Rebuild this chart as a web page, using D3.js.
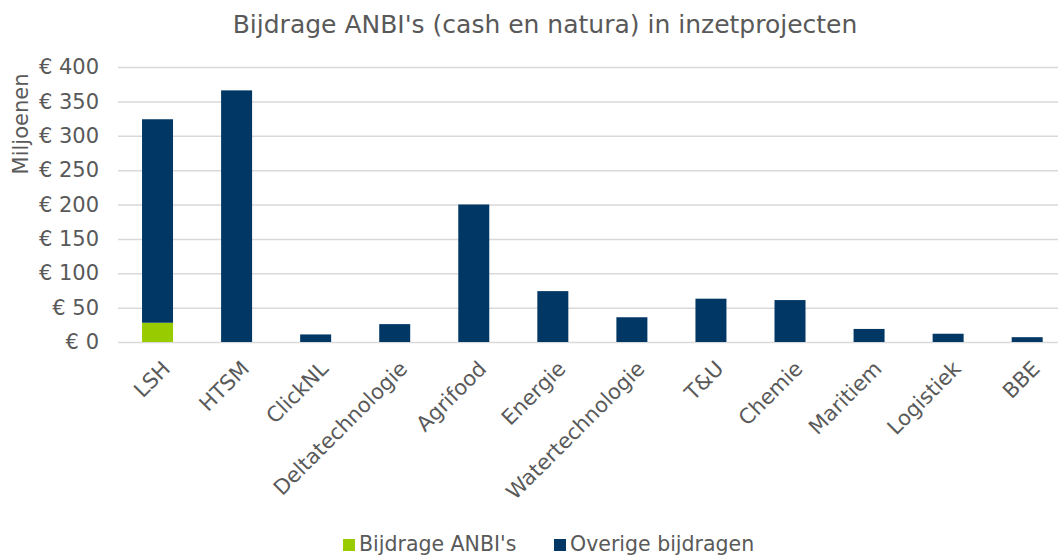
<!DOCTYPE html>
<html>
<head>
<meta charset="utf-8">
<script src="https://cdn.jsdelivr.net/npm/d3@7"></script>
<style>
  body { margin: 0; background: #fff; }
  text { font-family: "DejaVu Sans", Verdana, sans-serif; fill: #595959; }
</style>
</head>
<body>
<svg id="chart" width="1058" height="558"></svg>
<script>
// data (millions of euros)
const categories = ["LSH", "HTSM", "ClickNL", "Deltatechnologie", "Agrifood", "Energie",
  "Watertechnologie", "T&U", "Chemie", "Maritiem", "Logistiek", "BBE"];
const anbi = [28, 0, 0, 0, 0, 0, 0, 0, 0, 0, 0, 0];
const overige = [296, 366, 11, 26, 200, 74, 36, 63, 61, 19, 12, 7];
const yTicks = [0, 50, 100, 150, 200, 250, 300, 350, 400];
const seriesNames = ["Bijdrage ANBI's", "Overige bijdragen"];
const colors = ["#99cc00", "#003764"];

const svg = d3.select("#chart");
const w = 1058;
const plotLeft = 118, plotTop = 67, plotBottom = 342;

const x = d3.scaleBand().domain(categories)
  .range([plotLeft, plotLeft + 79.06 * categories.length])
  .paddingInner(0.608).paddingOuter(0.304);
const y = d3.scaleLinear().domain([0, 400]).range([plotBottom, plotTop]);

const font = '"DejaVu Sans", Verdana, sans-serif';

// gridlines
svg.append('g').selectAll('line').data(yTicks).enter()
  .append('line')
  .attr('x1', plotLeft).attr('x2', w)
  .attr('y1', d => y(d) + 0.5).attr('y2', d => y(d) + 0.5)
  .attr('stroke', '#d9d9d9').attr('stroke-width', 1.5);

// stacked bars
const rows = categories.map((c, i) => ({ cat: c, anbi: anbi[i], overige: overige[i] }));
const stack = d3.stack().keys(["anbi", "overige"])(rows);

svg.append('g').selectAll('g').data(stack).enter()
  .append('g').attr('fill', (d, i) => colors[i])
  .selectAll('rect').data(d => d.filter(v => v[1] - v[0] > 0)).enter()
  .append('rect')
  .attr('x', d => x(d.data.cat))
  .attr('width', x.bandwidth())
  .attr('y', d => y(d[1]))
  .attr('height', d => y(d[0]) - y(d[1]));

// y axis labels
const yAxis = d3.axisLeft(y).tickValues(yTicks).tickSize(0).tickPadding(19)
  .tickFormat(d => "€ " + d);
const ya = svg.append('g').attr('transform', `translate(${plotLeft},0)`).call(yAxis);
ya.select('.domain').remove();
ya.selectAll('text').attr('font-size', 21).attr('fill', '#595959')
  .style('font-family', font);

// x axis labels
const xAxis = d3.axisBottom(x).tickSize(0).tickPadding(0);
const xa = svg.append('g').attr('transform', `translate(0,${y(0)})`).call(xAxis);
xa.select('.domain').remove();
xa.selectAll('text')
  .attr('font-size', 21).attr('fill', '#595959')
  .style('font-family', font)
  .attr('text-anchor', 'end')
  .attr('y', 0).attr('dy', 0)
  .attr('transform', 'translate(14,28) rotate(-45)');

// axis title
svg.append('text')
  .attr('transform', 'translate(28,124) rotate(-90)')
  .attr('text-anchor', 'middle')
  .attr('font-size', 21)
  .text("Miljoenen");

// chart title
svg.append('text')
  .attr('x', 545).attr('y', 33)
  .attr('text-anchor', 'middle')
  .attr('font-size', 25)
  .text("Bijdrage ANBI's (cash en natura) in inzetprojecten");

// legend
const legendX = [343, 554];
const items = svg.append('g').selectAll('g').data(seriesNames).enter()
  .append('g').attr('transform', (d, i) => `translate(${legendX[i]},551)`);
items.append('rect').attr('x', 0).attr('y', -12).attr('width', 12).attr('height', 12)
  .attr('fill', (d, i) => colors[i]);
items.append('text').attr('x', 16).attr('y', 0).attr('font-size', 20.5).text(d => d);
</script>
</body>
</html>
